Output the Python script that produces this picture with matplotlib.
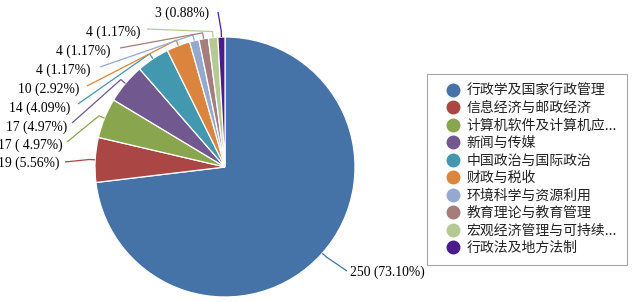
import matplotlib
matplotlib.use("Agg")
import matplotlib.pyplot as plt
from matplotlib.lines import Line2D
import numpy as np

plt.rcParams['font.family'] = ['Noto Sans CJK SC', 'DejaVu Sans']

categories = ["行政学及国家行政管理", "信息经济与邮政经济", "计算机软件及计算机应...",
              "新闻与传媒", "中国政治与国际政治", "财政与税收", "环境科学与资源利用",
              "教育理论与教育管理", "宏观经济管理与可持续...", "行政法及地方法制"]
values = [250, 19, 17, 17, 14, 10, 4, 4, 4, 3]
value_labels = ["250 (73.10%)", "19 (5.56%)", "17 ( 4.97%)", "17 (4.97%)", "14 (4.09%)",
                "10 (2.92%)", "4 (1.17%)", "4 (1.17%)", "4 (1.17%)", "3 (0.88%)"]
colors = ["#4572A7", "#AA4643", "#89A54E", "#71588F", "#4198AF", "#DB843D",
          "#93A9CF", "#A47D7C", "#B5CA92", "#4B1C8C"]

W, H = 633, 302
# layout (pixel coords, y from top): label text anchor and leader-line end
text_pos = [(350, 272), (60, 163), (63, 145), (67, 127), (70, 108), (79, 89),
            (91, 70), (111, 51), (141, 32), (209, 13)]
line_end = [(347, 271), (65, 162), (67, 142), (72, 123), (78, 104), (87, 86),
            (100, 67), (120, 48), (147, 29), (218, 12)]
cx, cy, R = 225, 167, 130

fig = plt.figure(figsize=(W / 100, H / 100), dpi=100)
ax = fig.add_axes([0, 0, 1, 1])
wedges, _ = ax.pie(values, colors=colors, startangle=90, counterclock=False,
                   center=(cx, H - cy), radius=R,
                   wedgeprops=dict(edgecolor='white', linewidth=0.9))
ax.set_xlim(0, W)
ax.set_ylim(0, H)
ax.set_aspect('equal')
ax.axis('off')

for i, w in enumerate(wedges):
    th = np.deg2rad((w.theta1 + w.theta2) / 2)
    p0 = (cx + R * np.cos(th), H - cy + R * np.sin(th))
    p1 = (cx + (R + 6) * np.cos(th), H - cy + (R + 6) * np.sin(th))
    ex, ey = line_end[i]
    ax.plot([p0[0], p1[0], ex], [p0[1], p1[1], H - ey], color=colors[i], lw=0.9,
            solid_capstyle='butt')
    tx, ty = text_pos[i]
    ax.text(tx, H - ty, value_labels[i], ha='left' if i == 0 else 'right',
            va='center', fontsize=9.8, family=['Liberation Serif', 'DejaVu Serif'])

handles = [Line2D([], [], marker='o', color=c, linestyle='None', markersize=9)
           for c in colors]
leg = fig.legend(handles, categories, loc='upper left',
                 bbox_to_anchor=(427 / W, 1 - 74 / H), borderaxespad=0,
                 fontsize=10, frameon=True, fancybox=False, framealpha=1,
                 edgecolor='#A6A6A6', borderpad=0.7, handlelength=2.4,
                 handletextpad=-0.25, labelspacing=0.25)
leg.get_frame().set_linewidth(0.8)
for t in leg.get_texts():
    t.set_color('#222222')

fig.savefig("out.png", dpi=100)
